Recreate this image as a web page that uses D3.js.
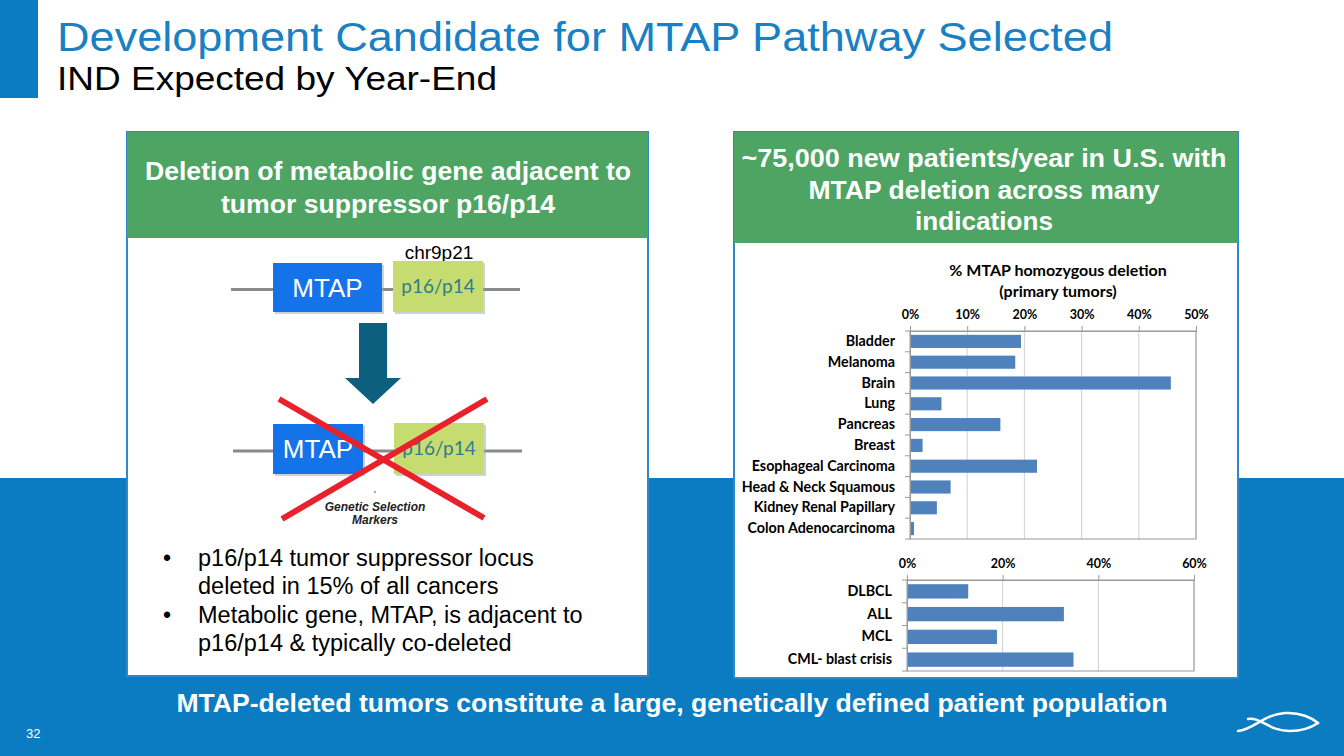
<!DOCTYPE html>
<html><head><meta charset="utf-8">
<script src="https://cdn.jsdelivr.net/npm/d3@7/dist/d3.min.js"></script>
<style>body{margin:0;background:#fff}svg{display:block}</style>
</head><body>
<svg id="s" width="1344" height="756"></svg>
<script>
// ---- data ----
const solidCategories = ["Bladder","Melanoma","Brain","Lung","Pancreas","Breast","Esophageal Carcinoma","Head & Neck Squamous","Kidney Renal Papillary","Colon Adenocarcinoma"];
const solidValues = [0.194,0.184,0.456,0.055,0.158,0.022,0.222,0.071,0.047,0.007];
const solidTicks = [0,0.1,0.2,0.3,0.4,0.5];
const hemeCategories = ["DLBCL","ALL","MCL","CML- blast crisis"];
const hemeValues = [0.128,0.328,0.188,0.348];
const hemeTicks = [0,0.2,0.4,0.6];
const chartTitle = ["% MTAP homozygous deletion","(primary tumors)"];
const leftHeader = ["Deletion of metabolic gene adjacent to","tumor suppressor p16/p14"];
const rightHeader = ["~75,000 new patients/year in U.S. with","MTAP deletion across many","indications"];
const bullets = [["p16/p14 tumor suppressor locus","deleted in 15% of all cancers"],["Metabolic gene, MTAP, is adjacent to","p16/p14 & typically co-deleted"]];

const svg = d3.select("#s");
const BLUE = "#0b7cc1", GREEN = "#4ea463", BAR = "#4f81bd";
const ARIAL = "'Liberation Sans', Arial, sans-serif";
const CAL = "Lato, 'Open Sans', sans-serif";

svg.append("rect").attr("x",0).attr("y",478).attr("width",1344).attr("height",278).attr("fill",BLUE);
svg.append("rect").attr("x",0).attr("y",0).attr("width",38).attr("height",98).attr("fill",BLUE);

function fitText(sel, w){
  sel.attr("textLength",w).attr("lengthAdjust","spacingAndGlyphs");
}
svg.append("text").attr("x",57).attr("y",51).attr("fill","#1a80c4").attr("font-family",ARIAL).attr("font-size",40)
  .text("Development Candidate for MTAP Pathway Selected").call(fitText,1056);
svg.append("text").attr("x",57).attr("y",90).attr("fill","#000").attr("font-family",ARIAL).attr("font-size",33)
  .text("IND Expected by Year-End").call(fitText,440);

// panels
svg.append("rect").attr("x",127).attr("y",132).attr("width",521).attr("height",544).attr("fill","#fff").attr("stroke","#2f88c8").attr("stroke-width",2);
svg.append("rect").attr("x",127).attr("y",132).attr("width",521).attr("height",106).attr("fill",GREEN);
svg.append("rect").attr("x",734).attr("y",132).attr("width",504).attr("height",546).attr("fill","#fff").attr("stroke","#2f88c8").attr("stroke-width",2);
svg.append("rect").attr("x",734).attr("y",132).attr("width",504).attr("height",111).attr("fill",GREEN);

leftHeader.forEach((t,i)=>{
  svg.append("text").attr("x",388).attr("y",180+i*33).attr("text-anchor","middle").attr("fill","#fff")
    .attr("font-family",ARIAL).attr("font-weight","bold").attr("font-size",26).text(t).call(fitText,[486,334][i]);
});
rightHeader.forEach((t,i)=>{
  svg.append("text").attr("x",984).attr("y",167+i*31.5).attr("text-anchor","middle").attr("fill","#fff")
    .attr("font-family",ARIAL).attr("font-weight","bold").attr("font-size",26).text(t).call(fitText,[485,351,138][i]);
});

// ---- diagram ----
const dg = svg.append("g");
dg.append("text").attr("x",439).attr("y",259).attr("text-anchor","middle").attr("font-family",ARIAL).attr("font-size",19).text("chr9p21");
dg.append("line").attr("x1",231).attr("x2",520).attr("y1",289.5).attr("y2",289.5).attr("stroke","#8a8a8a").attr("stroke-width",3);
dg.append("line").attr("x1",233).attr("x2",522).attr("y1",451).attr("y2",451).attr("stroke","#8a8a8a").attr("stroke-width",3);
function box(x,y,w,h,fill,label,col,fs,ff){
  dg.append("rect").attr("x",x+2).attr("y",y+2).attr("width",w).attr("height",h).attr("fill","#9aa7b0").attr("opacity",0.5);
  dg.append("rect").attr("x",x).attr("y",y).attr("width",w).attr("height",h).attr("fill",fill);
  dg.append("text").attr("x",x+w/2).attr("y",y+h/2+fs*0.36).attr("text-anchor","middle").attr("fill",col)
    .attr("font-family",ff).attr("font-size",fs).text(label);
}
box(273,263,109,49,"#1573ea","MTAP","#fff",26,ARIAL);
box(393,261,90,51,"#c6dc70","p16/p14","#2d7d8e",19,CAL);
box(273,424,90,50,"#1573ea","MTAP","#fff",26,ARIAL);
box(394,423,90,51,"#c6dc70","p16/p14","#2d7d8e",19,CAL);
dg.append("path").attr("d","M359,323 L387,323 L387,378 L401,378 L373,404 L345,378 L359,378 Z").attr("fill","#0d5f7f");
dg.append("circle").attr("cx",375).attr("cy",492).attr("r",1).attr("fill","#888");
dg.append("text").attr("x",375).attr("y",511).attr("text-anchor","middle").attr("font-family",ARIAL).attr("font-weight","bold").attr("font-style","italic").attr("font-size",12).attr("fill","#222").text("Genetic Selection");
dg.append("text").attr("x",375).attr("y",524).attr("text-anchor","middle").attr("font-family",ARIAL).attr("font-weight","bold").attr("font-style","italic").attr("font-size",12).attr("fill","#222").text("Markers");
dg.append("line").attr("x1",279).attr("y1",399).attr("x2",484).attr("y2",518).attr("stroke","#e8212b").attr("stroke-width",6);
dg.append("line").attr("x1",487).attr("y1",399).attr("x2",282).attr("y2",519).attr("stroke","#e8212b").attr("stroke-width",6);

// bullets
let by = 566;
bullets.forEach(b=>{
  svg.append("text").attr("x",163).attr("y",by).attr("font-family",ARIAL).attr("font-size",23).text("•");
  b.forEach(l=>{ svg.append("text").attr("x",198).attr("y",by).attr("font-family",ARIAL).attr("font-size",23.5).text(l); by+=28.4; });
});

// ---- charts ----
chartTitle.forEach((t,i)=>{
  svg.append("text").attr("x",1058).attr("y",276+i*21).attr("text-anchor","middle").attr("font-family",CAL)
    .attr("font-weight","bold").attr("font-size",16).text(t);
});

function barChart(cats, vals, ticks, x0, x1, y0, y1, xmax){
  const g = svg.append("g");
  const x = d3.scaleLinear().domain([0,xmax]).range([x0,x1]);
  const y = d3.scaleBand().domain(cats).range([y0,y1]).paddingInner(0.37).paddingOuter(0.185);
  g.selectAll(".grid").data(ticks.slice(1)).join("line").attr("x1",d=>x(d)).attr("x2",d=>x(d)).attr("y1",y0).attr("y2",y1)
    .attr("stroke","#d0d0d0").attr("stroke-width",1);
  g.append("rect").attr("x",x0).attr("y",y0).attr("width",x1-x0).attr("height",y1-y0).attr("fill","none").attr("stroke","#9a9a9a").attr("stroke-width",1);
  g.selectAll(".bar").data(vals).join("rect").attr("x",x(0)).attr("y",(d,i)=>y(cats[i])).attr("width",d=>x(d)-x(0))
    .attr("height",y.bandwidth()).attr("fill",BAR);
  const ax = g.append("g").attr("transform",`translate(0,${y0})`).call(d3.axisTop(x).tickValues(ticks).tickFormat(d3.format(".0%")).tickSize(5).tickPadding(7));
  ax.select(".domain").attr("stroke","#9a9a9a");
  ax.selectAll(".tick line").attr("stroke","#9a9a9a");
  ax.selectAll("text").attr("font-family",CAL).attr("font-weight","bold").attr("font-size",12.5).attr("fill","#000");
  const ay = g.append("g").attr("transform",`translate(${x0},0)`).call(d3.axisLeft(y).tickSize(0).tickPadding(15));
  ay.select(".domain").attr("stroke","#9a9a9a");
  ay.selectAll("text").attr("font-family",CAL).attr("font-weight","bold").attr("font-size",14.3).attr("fill","#000");
  const bounds = d3.range(cats.length+1).map(i=>y0+(y1-y0)*i/cats.length);
  g.selectAll(".bt").data(bounds).join("line").attr("x1",x0-5).attr("x2",x0).attr("y1",d=>d).attr("y2",d=>d).attr("stroke","#9a9a9a");
}
barChart(solidCategories, solidValues, solidTicks, 910, 1196, 331, 539, 0.5);
barChart(hemeCategories, hemeValues, hemeTicks, 907, 1194, 580, 671, 0.6);

// footer
svg.append("text").attr("x",672).attr("y",712).attr("text-anchor","middle").attr("fill","#fff").attr("font-family",ARIAL)
  .attr("font-weight","bold").attr("font-size",25).text("MTAP-deleted tumors constitute a large, genetically defined patient population").call(fitText,991);
svg.append("text").attr("x",26).attr("y",738).attr("fill","#fff").attr("font-family",ARIAL).attr("font-size",13).text("32");
// logo
const lg = svg.append("g").attr("fill","none").attr("stroke","#fff").attr("stroke-linecap","round");
lg.append("path").attr("d","M1238,731 C1255,729 1262,715 1285,713 C1300,712 1312,718 1318,723").attr("stroke-width",2.5);
lg.append("path").attr("d","M1248,719 C1262,717 1268,731 1290,731 C1302,731 1312,727 1318,723").attr("stroke-width",2.5);
</script>
</body></html>
